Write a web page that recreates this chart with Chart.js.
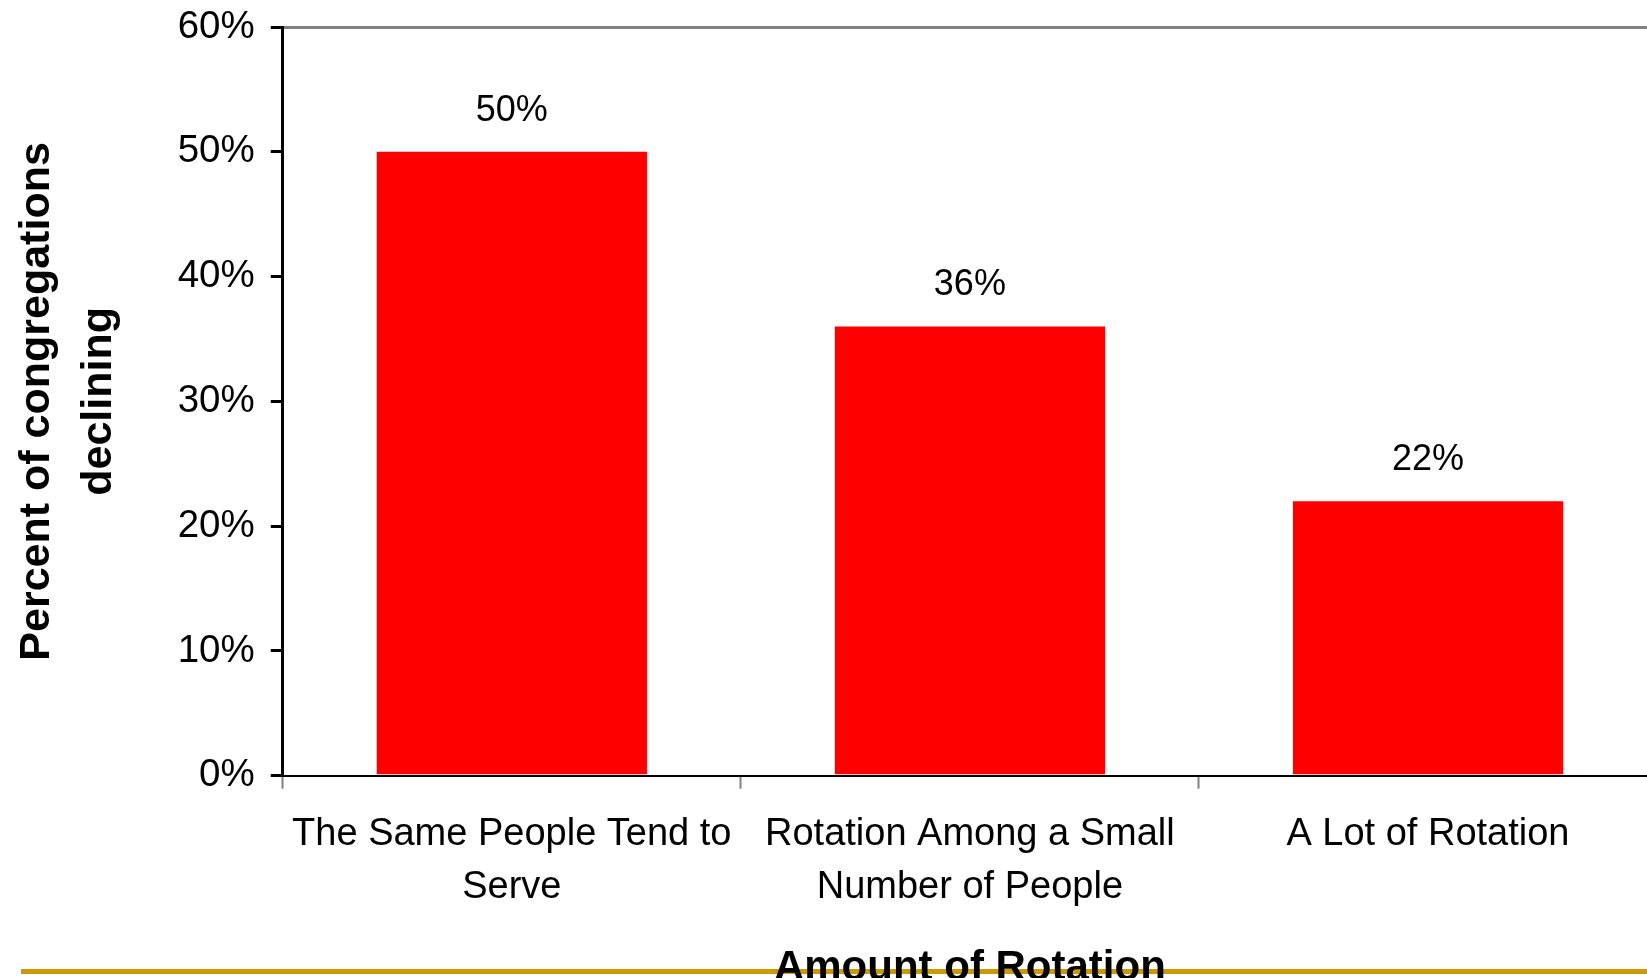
<!DOCTYPE html>
<html>
<head>
<meta charset="utf-8">
<script src="https://cdn.jsdelivr.net/npm/chart.js@4/dist/chart.umd.min.js"></script>
<style>
  html, body { margin: 0; padding: 0; background: #fff; overflow: hidden; }
  #wrap { width: 1647px; height: 978px; overflow: hidden; position: relative; }
  #wrap canvas { position: absolute; left: 0; top: -12px; }
</style>
</head>
<body>
<div id="wrap"><canvas id="bar-chart" width="1680" height="1009"></canvas></div>
<script>
const categories = [
  ["The Same People Tend to", "Serve"],
  ["Rotation Among a Small", "Number of People"],
  "A Lot of Rotation",
];
const percentDeclining = [50, 36, 22];
const yTicks = [0, 10, 20, 30, 40, 50, 60];

// labels over bars, drawn from the bar elements
const valueLabels = {
  id: "valueLabels",
  afterDatasetsDraw(chart) {
    const ctx = chart.ctx;
    ctx.save();
    ctx.font = "36px 'Liberation Sans', Arial, sans-serif";
    ctx.fillStyle = "#000";
    ctx.textAlign = "center";
    ctx.textBaseline = "middle";
    chart.getDatasetMeta(0).data.forEach((bar, i) => {
      ctx.fillText(percentDeclining[i] + "%", bar.x, bar.y - 41);
    });
    ctx.restore();
  },
};

// slide footer rule
const footerRule = {
  id: "footerRule",
  beforeDraw(chart) {
    const ctx = chart.ctx;
    ctx.save();
    ctx.fillStyle = "#CC9900";
    ctx.fillRect(21, 981, chart.width, 5);
    ctx.restore();
  },
};

const config = {
  type: "bar",
  data: {
    labels: categories,
    datasets: [
      {
        data: percentDeclining,
        backgroundColor: "#FF0000",
        borderWidth: 0,
        barPercentage: 0.59,
        categoryPercentage: 1,
      },
    ],
  },
  options: {
    responsive: false,
    animation: false,
    layout: { padding: { top: 16, right: 23, left: 0, bottom: 3 } },
    plugins: {
      legend: { display: false },
      tooltip: { enabled: false },
      title: { display: false },
    },
    scales: {
      x: {
        grid: {
          offset: true,
          drawOnChartArea: false,
          tickLength: 13,
          tickColor: "#808080",
          tickWidth: 2,
        },
        border: { color: "#000", width: 2 },
        ticks: {
          color: "#000",
          padding: 20,
          maxRotation: 0,
          font: { family: "'Liberation Sans', Arial, sans-serif", size: 38, lineHeight: 1.38 },
        },
        title: {
          display: true,
          text: "Amount of Rotation",
          color: "#000",
          padding: { top: 10, bottom: 0 },
          font: { family: "'Liberation Sans', Arial, sans-serif", size: 42, weight: "bold", lineHeight: 1.2 },
        },
      },
      y: {
        min: 0,
        max: 60,
        afterBuildTicks: (scale) => {
          scale.ticks = yTicks.map((v) => ({ value: v }));
        },
        grid: {
          color: (c) => (c.tick && c.tick.value === 60 ? "#808080" : "rgba(0,0,0,0)"),
          lineWidth: 3,
          tickLength: 12,
          tickColor: "#000",
          tickWidth: 3,
        },
        border: { color: "#000", width: 3 },
        ticks: {
          color: "#000",
          padding: 16,
          callback: (v) => v + "%",
          font: { family: "'Liberation Sans', Arial, sans-serif", size: 38.5 },
        },
        title: {
          display: true,
          text: ["Percent of congregations", "declining"],
          color: "#000",
          padding: { top: 6, bottom: 31 },
          font: { family: "'Liberation Sans', Arial, sans-serif", size: 43, weight: "bold", lineHeight: 1.45 },
        },
      },
    },
  },
  plugins: [footerRule, valueLabels],
};

new Chart(document.getElementById("bar-chart"), config);
</script>
</body>
</html>
